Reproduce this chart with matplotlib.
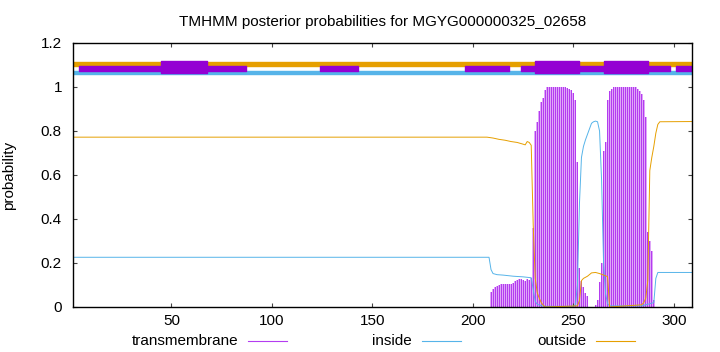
import matplotlib
matplotlib.use("Agg")
import matplotlib.pyplot as plt
from matplotlib.lines import Line2D

plt.rcParams['font.family'] = ['Liberation Sans', 'DejaVu Sans']

seq_len = 309

# transmembrane posterior per residue (impulses)
tm_res = list(range(209, 292))
tm_prob = [0.067, 0.08, 0.089, 0.095, 0.10, 0.105, 0.105, 0.105, 0.105, 0.105,
           0.105, 0.11, 0.118, 0.123, 0.126, 0.129, 0.125, 0.12, 0.127, 0.125,
           0.13, 0.36, 0.80, 0.84, 0.89, 0.93, 0.95, 0.985, 1.0, 1.0,
           1.0, 1.0, 1.0, 1.0, 1.0, 1.0, 1.0, 0.998, 0.995, 0.99,
           0.985, 0.975, 0.94, 0.66, 0.176, 0.12, 0.09, 0.065, 0.05, 0.0,
           0.0, 0.0, 0.01, 0.03, 0.115, 0.2, 0.71, 0.75, 0.94, 0.98,
           0.99, 1.0, 1.0, 1.0, 1.0, 1.0, 1.0, 1.0, 1.0, 1.0,
           1.0, 1.0, 1.0, 0.99, 0.98, 0.97, 0.94, 0.865, 0.34, 0.30,
           0.256, 0.03, 0.0]

# inside posterior (read at key residues)
in_x = [1, 208, 209, 210, 212, 215, 220, 225, 229, 230, 231, 232, 234, 236,
        250, 251, 252, 253, 254, 255, 256, 257, 258, 259, 260, 261, 262, 263,
        264, 265, 266, 267, 268, 284, 286, 288, 290, 291, 292, 309]
in_y = [0.226, 0.226, 0.17, 0.152, 0.147, 0.145, 0.14, 0.137, 0.133, 0.08,
        0.025, 0.012, 0.006, 0.003, 0.003, 0.01, 0.1, 0.47, 0.68, 0.73,
        0.76, 0.785, 0.81, 0.835, 0.842, 0.845, 0.842, 0.80, 0.58, 0.2,
        0.06, 0.015, 0.005, 0.005, 0.01, 0.015, 0.02, 0.13, 0.157, 0.157]

# outside posterior (read at key residues)
out_x = [1, 207, 210, 213, 216, 219, 222, 225, 226, 227, 228, 229, 230, 231,
         232, 233, 234, 235, 236, 252, 253, 254, 255, 257, 259, 261, 263, 265,
         266, 267, 268, 284, 285, 286, 287, 288, 289, 290, 291, 292, 293, 309]
out_y = [0.772, 0.772, 0.768, 0.762, 0.758, 0.752, 0.748, 0.740, 0.737, 0.752,
         0.748, 0.735, 0.37, 0.13, 0.065, 0.04, 0.02, 0.008, 0.0, 0.005,
         0.03, 0.12, 0.13, 0.14, 0.155, 0.157, 0.152, 0.145, 0.142, 0.138,
         0.0, 0.01, 0.02, 0.04, 0.12, 0.62, 0.68, 0.73, 0.79, 0.83,
         0.842, 0.843]

# topology bars at the top (start, end)
tm_thin_segs = [(4, 87), (124, 143), (196, 218), (224, 298), (301, 309)]
tm_thick_segs = [(45, 67.5), (231, 253), (265, 287)]

purple = '#9400d3'
impulse = '#b43cf0'
impulse_light = '#dfa6f8'
blue = '#56b4e9'
orange = '#e69f00'

fig = plt.figure(figsize=(7.2, 3.52), dpi=100)
ax = fig.add_axes([73 / 720, 1 - 307 / 352, 619 / 720, 264 / 352])

ax.bar(tm_res, tm_prob, width=1.0, color=impulse_light, linewidth=0)
ax.bar(tm_res, tm_prob, width=0.5, color=impulse, linewidth=0)
ax.plot(in_x, in_y, color=blue, lw=0.7)
ax.plot(out_x, out_y, color=orange, lw=0.7)

ax.broken_barh([(1, seq_len - 1)], (1.097, 0.018), color=orange)
ax.broken_barh([(1, seq_len - 1)], (1.060, 0.013), color=blue)
ax.broken_barh([(a, b - a) for a, b in tm_thin_segs], (1.073, 0.022), color=purple)
ax.broken_barh([(a, b - a) for a, b in tm_thick_segs], (1.062, 0.054), color=purple)

ax.set_xlim(1, seq_len)
ax.set_ylim(0, 1.2)
ax.set_xticks([50, 100, 150, 200, 250, 300])
ax.set_yticks([0, 0.2, 0.4, 0.6, 0.8, 1.0, 1.2])
ax.set_yticklabels(['0', '0.2', '0.4', '0.6', '0.8', '1', '1.2'])
ax.tick_params(direction='in', length=3, width=0.8, labelsize=11,
               top=True, right=True, color='#444444')
ax.tick_params(axis='y', pad=8)
ax.tick_params(axis='x', pad=5)
for s in ax.spines.values():
    s.set_linewidth(1.0)

ax.set_ylabel('probability', fontsize=11)
ax.yaxis.set_label_coords(-0.092, 0.5)
ax.set_title('TMHMM posterior probabilities for MGYG000000325_02658',
             fontsize=11, pad=12)

# legend along the bottom, gnuplot style (text then sample)
legend_items = [('transmembrane', impulse, 238, 248, 287),
                ('inside', blue, 412, 422, 461),
                ('outside', orange, 586, 596, 635)]
for label, col, tx, x0, x1 in legend_items:
    fig.text(tx / 720, 1 - 341 / 352, label, ha='right', va='center', fontsize=11)
    fig.add_artist(Line2D([x0 / 720, x1 / 720], [1 - 341 / 352] * 2,
                          color=col, lw=0.8, transform=fig.transFigure))

fig.savefig('out.png', dpi=100)
